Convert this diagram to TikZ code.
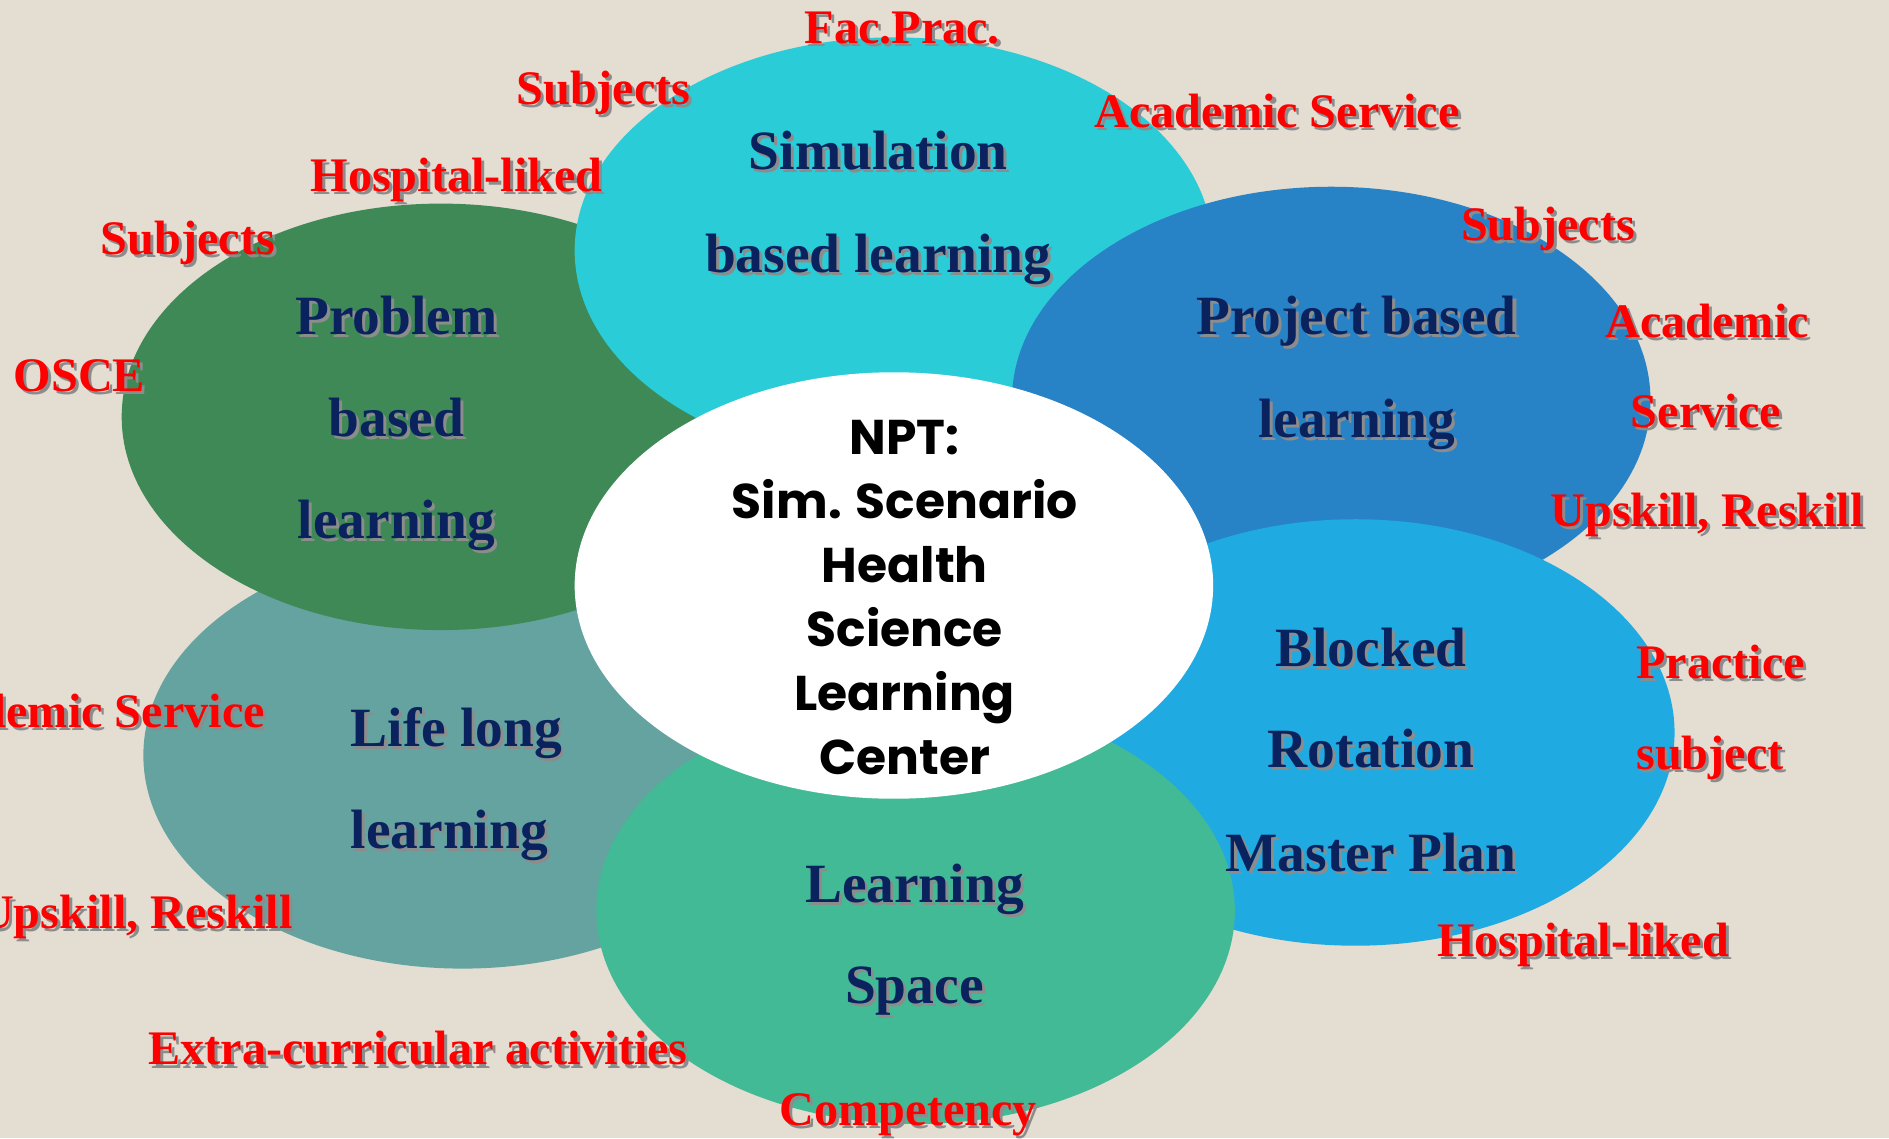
\documentclass[tikz,border=0pt]{standalone}
\usepackage{fontspec}
\setmainfont{Liberation Serif}
\newfontfamily\ctrfont{Poppins}
\usetikzlibrary{shapes.geometric}
\definecolor{bgc}{HTML}{E3DDD2}
\definecolor{cSim}{HTML}{29CCD7}
\definecolor{cProb}{HTML}{3E8955}
\definecolor{cProj}{HTML}{2882C6}
\definecolor{cBlock}{HTML}{1FABE2}
\definecolor{cSpace}{HTML}{43BA96}
\definecolor{cLife}{HTML}{64A39F}
\definecolor{navy}{HTML}{0A235E}
\definecolor{lblred}{HTML}{FF0000}
\newcommand{\shd}[1]{\makebox[0pt][l]{\hspace{2.5pt}\raisebox{-2.5pt}{\textcolor{black!45}{#1}}}#1}
\tikzset{
  petal/.style={ellipse, minimum width=530pt, minimum height=354pt, inner sep=0pt},
  topic/.style={text=navy, font=\bfseries\fontsize{46}{50}\selectfont, inner sep=0pt, anchor=base},
  lbl/.style={text=lblred, font=\bfseries\fontsize{40}{44}\selectfont, inner sep=0pt, anchor=base},
}
\begin{document}
\begin{tikzpicture}[x=1pt, y=-1pt]
\useasboundingbox (0,0) rectangle (1568,945);
\fill[bgc] (0,0) rectangle (1568,945);
\clip (0,0) rectangle (1568,945);
% petals
\node[petal, fill=cLife]  (life)  at (384,627) {};
\node[petal, fill=cProb]  (prob)  at (366,346) {};
\node[petal, fill=cSim]   (sim)   at (742,208) {};
\node[petal, fill=cProj]  (proj)  at (1105,332) {};
\node[petal, fill=cBlock] (block) at (1125,608) {};
\node[petal, fill=cSpace] (space) at (760,756) {};
\node[petal, fill=white]  (hub)   at (742,486) {};
% hub text
\node[align=center, font=\ctrfont\bfseries\fontsize{40.5}{53}\selectfont, inner sep=0pt] (hubtxt) at (751,496)
  {NPT:\\Sim. Scenario\\Health\\Science\\Learning\\Center};
% topic texts
\node[topic] (t1) at (729,141) {\shd{Simulation}};
\node[topic] (t2) at (729,226) {\shd{based learning}};
\node[topic] (t3) at (329,278) {\shd{Problem}};
\node[topic] (t4) at (329,362) {\shd{based}};
\node[topic] (t5) at (329,447) {\shd{learning}};
\node[topic] (t6) at (1126,278) {\shd{Project based}};
\node[topic] (t7) at (1126,363) {\shd{learning}};
\node[topic] (t8) at (1138,553) {\shd{Blocked}};
\node[topic] (t9) at (1138,637) {\shd{Rotation}};
\node[topic] (t10) at (1138,723) {\shd{Master Plan}};
\node[topic] (t11) at (759,749) {\shd{Learning}};
\node[topic] (t12) at (759,833) {\shd{Space}};
\node[topic, anchor=base west] (t13) at (291,620) {\shd{Life long}};
\node[topic, anchor=base west] (t14) at (291,704) {\shd{learning}};
% red labels
\node[lbl] (l1) at (749,36) {\shd{Fac.Prac.}};
\node[lbl] (l2) at (501,87) {\shd{Subjects}};
\node[lbl] (l3) at (379,159) {\shd{Hospital-liked}};
\node[lbl] (l4) at (156,211) {\shd{Subjects}};
\node[lbl] (l5) at (66,325) {\shd{OSCE}};
\node[lbl] (l6) at (1060,106) {\shd{Academic Service}};
\node[lbl] (l7) at (1285,200) {\shd{Subjects}};
\node[lbl] (l8) at (1417,280) {\shd{Academic}};
\node[lbl] (l9) at (1416,355) {\shd{Service}};
\node[lbl] (l10) at (1417,437) {\shd{Upskill, Reskill}};
\node[lbl, anchor=base west] (l11) at (1358,563) {\shd{Practice}};
\node[lbl, anchor=base west] (l12) at (1358,639) {\shd{subject}};
\node[lbl] (l13) at (1314,794) {\shd{Hospital-liked}};
\node[lbl] (l14) at (754,934) {\shd{Competency}};
\node[lbl] (l15) at (347,884) {\shd{Extra-curricular activities}};
\node[lbl, anchor=base east] (l16) at (243,771) {\shd{Upskill, Reskill}};
\node[lbl, anchor=base east] (l17) at (220,604) {\shd{Academic Service}};
\end{tikzpicture}
\end{document}
